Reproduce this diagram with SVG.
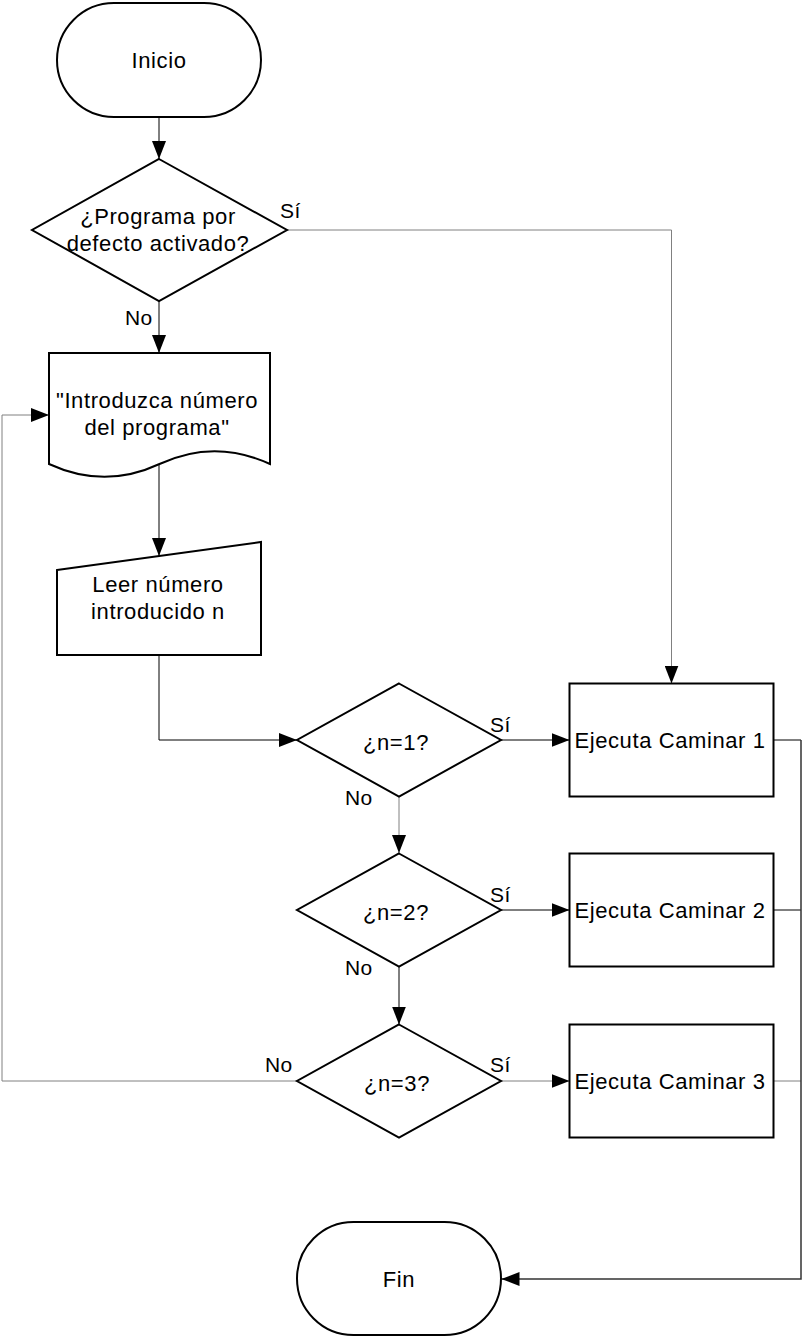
<svg xmlns="http://www.w3.org/2000/svg" width="802" height="1338" viewBox="0 0 802 1338">
<defs>
<style>
.shape{fill:#fff;stroke:#000;stroke-width:2}
.t{font-family:"Liberation Sans",Arial,sans-serif;font-size:22px;letter-spacing:0.6px;fill:#000;text-anchor:middle}
.lbl{font-family:"Liberation Sans",Arial,sans-serif;font-size:21px;letter-spacing:0.4px;fill:#000}
.c{fill:none;stroke:#000;stroke-width:1}
.g{fill:none;stroke:#808080;stroke-width:1}
</style>
<marker id="arr" viewBox="0 0 18 14" refX="18" refY="7" markerWidth="18" markerHeight="14" markerUnits="userSpaceOnUse" orient="auto">
<path d="M0,0 L18,7 L0,14 Z" fill="#000"/>
</marker>
</defs>
<rect width="802" height="1338" fill="#fff"/>

<g id="connectors">
<path class="c" d="M159,117 V159" marker-end="url(#arr)"/>
<path class="g" d="M287,230 H671.5 V683.5" marker-end="url(#arr)"/>
<path class="c" d="M159,301 V353" marker-end="url(#arr)"/>
<path class="c" d="M159,464 V556" marker-end="url(#arr)"/>
<path class="c" d="M159,655 V740 H297" marker-end="url(#arr)"/>
<path class="c" d="M501,740 H569.5" marker-end="url(#arr)"/>
<path class="g" d="M399,797 V853" marker-end="url(#arr)"/>
<path class="c" d="M501,910 H569.5" marker-end="url(#arr)"/>
<path class="c" d="M399,967 V1024.5" marker-end="url(#arr)"/>
<path class="g" d="M501,1081 H569.5" marker-end="url(#arr)"/>
<path class="g" d="M297,1081 H2 V415 H49" marker-end="url(#arr)"/>
<path class="c" d="M773.5,740 H801" />
<path class="c" d="M773.5,910 H801" />
<path class="g" d="M773.5,1081 H801" />
<path fill="none" stroke="#333" stroke-width="1.5" d="M801,740 V1279 H501.5" marker-end="url(#arr)"/>
<text class="lbl" x="280" y="218">Sí</text>
<text class="lbl" x="125" y="325">No</text>
<text class="lbl" x="490" y="732">Sí</text>
<text class="lbl" x="345" y="805">No</text>
<text class="lbl" x="490" y="902">Sí</text>
<text class="lbl" x="345" y="975">No</text>
<text class="lbl" x="490" y="1072">Sí</text>
<text class="lbl" x="265" y="1072">No</text>
</g>

<g id="inicio">
<rect class="shape" x="57" y="3" width="204" height="114" rx="57" ry="57"/>
<text class="t" x="159" y="68">Inicio</text>
</g>

<g id="decision-programa">
<polygon class="shape" points="159,159 287,230 159,301 32,230"/>
<text class="t" x="158" y="224">¿Programa por</text>
<text class="t" x="158" y="251">defecto activado?</text>
</g>

<g id="documento">
<path class="shape" d="M49,353 H270 V464 C233,447 196,447 159.5,464 C123,481 86,481 49,464 Z"/>
<text class="t" x="157" y="408">"Introduzca número</text>
<text class="t" x="157" y="435">del programa"</text>
</g>

<g id="leer">
<polygon class="shape" points="57,570 261,542 261,655 57,655"/>
<text class="t" x="158" y="592">Leer número</text>
<text class="t" x="158" y="619">introducido n</text>
</g>

<g id="n1">
<polygon class="shape" points="399,683.5 501,740 399,796.5 297,740"/>
<text class="t" x="396" y="750">¿n=1?</text>
</g>

<g id="n2">
<polygon class="shape" points="399,853.5 501,910 399,966.5 297,910"/>
<text class="t" x="396" y="920">¿n=2?</text>
</g>

<g id="n3">
<polygon class="shape" points="399,1024.5 501,1081 399,1137.5 297,1081"/>
<text class="t" x="397" y="1091">¿n=3?</text>
</g>

<g id="caminar1">
<rect class="shape" x="569.5" y="683.5" width="204" height="113"/>
<text class="t" x="670" y="748">Ejecuta Caminar 1</text>
</g>

<g id="caminar2">
<rect class="shape" x="569.5" y="853.5" width="204" height="113"/>
<text class="t" x="670" y="918">Ejecuta Caminar 2</text>
</g>

<g id="caminar3">
<rect class="shape" x="569.5" y="1024.5" width="204" height="113"/>
<text class="t" x="670" y="1089">Ejecuta Caminar 3</text>
</g>

<g id="fin">
<rect class="shape" x="297" y="1222" width="204" height="113" rx="56.5" ry="56.5"/>
<text class="t" x="399" y="1287">Fin</text>
</g>
</svg>
